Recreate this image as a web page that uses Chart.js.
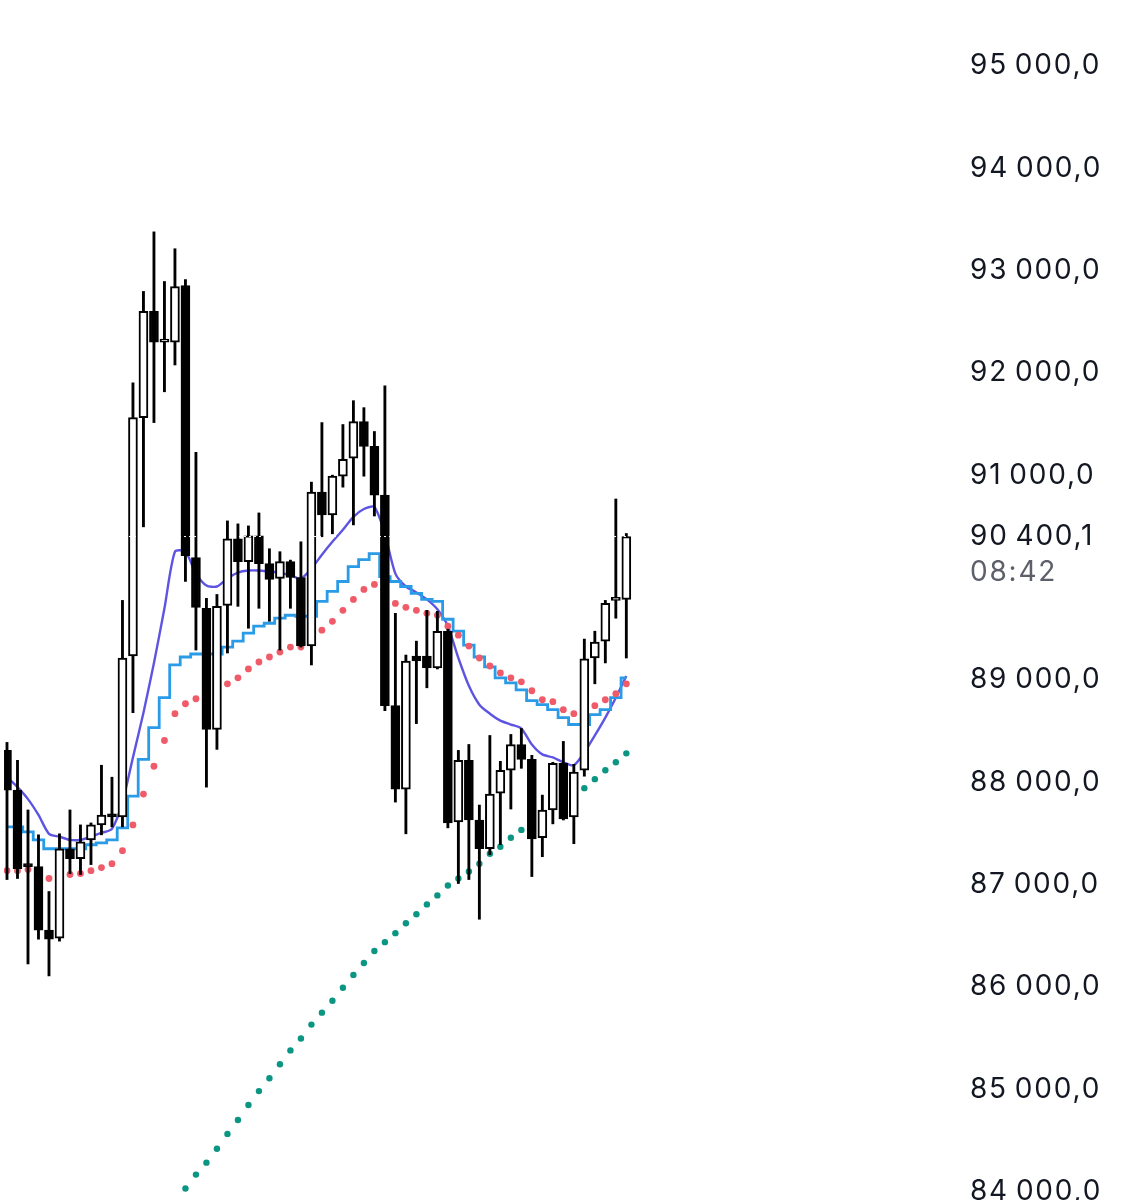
<!DOCTYPE html>
<html>
<head>
<meta charset="utf-8">
<script src="https://cdn.jsdelivr.net/npm/chart.js@4.4.1/dist/chart.umd.min.js"></script>
<style>
html,body{margin:0;padding:0;background:#ffffff;overflow:hidden;}
#c{display:block;}
</style>
</head>
<body>
<canvas id="c" width="1129" height="1200"></canvas>
<script>
// ---- data ----
const opens  = [88310,87922,87194,87174,86553,86475,87349,87252,87436,87582,87679,87660,89233,91563,92602,92301,92301,92854,90194,89699,88514,89728,90378,90155,90407,90136,89990,90155,90000,89330,90835,90611,90990,91165,91524,91281,90805,88747,87932,89233,89233,89116,89475,87611,88213,87630,87349,87893,88116,88368,88223,87456,87728,88184,87660,88116,89213,89378,89776,89786];
const highs  = [88388,88213,87728,87485,86931,87495,87728,87582,87601,88165,88048,89776,91903,92796,93378,92893,93213,92912,91223,89796,89834,90553,90524,90504,90631,90281,90252,90170,90349,90932,91514,91000,91495,91728,91660,91427,91873,89650,89242,89378,89679,89669,89495,88310,88368,87776,88456,88203,88466,88524,88262,87873,88194,88398,88174,89398,89475,89776,90767,90430];
const lows   = [87048,87058,86223,86465,86106,86446,87106,87097,87194,87485,87563,87563,88679,90495,91514,91815,92077,89961,89291,87951,88320,89262,89718,89504,89699,89572,89291,89699,89320,89145,90398,90427,90883,90514,90990,90601,88699,87805,87495,88572,88922,89106,87553,87009,87048,86660,87291,87388,87737,88135,87077,87271,87592,87630,87398,88058,88961,89165,89602,89213];
const closes = [87922,87155,87174,86553,86465,87349,87252,87417,87582,87679,87660,89213,91563,92602,92301,92310,92844,90213,89708,88514,89718,90378,90155,90407,90136,89980,90155,90000,89330,90835,90611,90990,91155,91524,91281,90805,88747,87932,89184,89184,89116,89475,87601,88213,87630,87349,87883,88116,88368,88223,87446,87728,88184,87640,88097,89204,89369,89747,89786,90400.1];

const maFast = [88048,87951,87834,87679,87495,87466,87436,87436,87466,87504,87543,87805,88242,88679,89165,89699,90252,90252,90038,89922,89912,89990,90048,90068,90068,90058,90048,90019,89990,90087,90223,90349,90466,90592,90669,90689,90427,90038,89912,89854,89786,89689,89524,89213,88941,88757,88669,88601,88563,88524,88368,88271,88242,88194,88165,88291,88456,88631,88825,89038];
const maStep = [87563,87563,87514,87436,87349,87349,87349,87349,87388,87407,87436,87553,87863,88223,88533,88825,89145,89223,89252,89252,89252,89320,89378,89456,89524,89553,89602,89631,89621,89621,89767,89864,89961,90106,90174,90233,90009,89961,89912,89844,89786,89767,89592,89475,89339,89223,89126,89019,88970,88902,88796,88757,88708,88631,88563,88563,88660,88708,88825,89019];
const redDots = [87135,87135,87145,87097,87058,87077,87097,87106,87135,87165,87203,87330,87582,87883,88155,88407,88669,88766,88815,88864,88912,88961,89019,89106,89174,89223,89271,89320,89320,89398,89485,89572,89679,89786,89883,89932,89796,89747,89708,89679,89650,89631,89524,89436,89330,89213,89135,89067,89019,88980,88893,88805,88786,88708,88669,88708,88747,88805,88864,88961];
const tealDots = [null,null,null,null,null,null,null,null,null,null,null,null,null,null,null,null,null,84029,84164,84281,84417,84562,84698,84844,84980,85106,85242,85378,85495,85630,85747,85864,85990,86116,86232,86349,86436,86524,86621,86708,86805,86893,86990,87058,87126,87203,87300,87368,87456,87533,87601,87679,87757,87825,87883,87941,88029,88116,88194,88281];

const lastPrice = 90400.1;
const lastTime = '08:42';
const yTicks = [95000,94000,93000,92000,91000,89000,88000,87000,86000,85000,84000];

// ---- view window ----
const xMin = -0.285, xMax = 90.31;
const yMin = 83955, yMax = 95605;
const AXIS_W = 174;

const labels = opens.map((_, i) => i);

function fmt(v) {
  const parts = Number(v).toFixed(1).split('.');
  return parts[0].replace(/\B(?=(\d{3})+(?!\d))/g, '\u2009') + ',' + parts[1];
}

const spacingPlugin = {
  id: 'labelSpacing',
  beforeDraw(chart) {
    try { chart.ctx.letterSpacing = '1.8px'; } catch (e) {}
  }
};

const lastPricePlugin = {
  id: 'lastPriceLabel',
  afterDraw(chart) {
    const ys = chart.scales.y;
    const ctx = chart.ctx;
    const py = ys.getPixelForValue(lastPrice);
    ctx.save();
    try { ctx.letterSpacing = '1.8px'; } catch (e) {}
    ctx.font = '28px Inter';
    ctx.textAlign = 'left';
    ctx.textBaseline = 'middle';
    ctx.fillStyle = '#131722';
    ctx.fillText(fmt(lastPrice), ys.left + 15, py);
    ctx.fillStyle = '#5d606b';
    ctx.fillText(lastTime, ys.left + 15, py + 36);
    ctx.restore();
  }
};

new Chart(document.getElementById('c'), {
  type: 'bar',
  data: {
    labels: labels,
    datasets: [
      {
        type: 'line',
        data: [{x: xMin, y: lastPrice}, {x: labels[labels.length - 1], y: lastPrice}],
        borderColor: '#ffffff',
        borderWidth: 1,
        borderDash: [2, 3],
        pointRadius: 0,
        order: 0
      },
      {
        type: 'bar',
        data: labels.map(i => [opens[i], closes[i]]),
        backgroundColor: labels.map(i => closes[i] >= opens[i] ? '#ffffff' : '#000000'),
        borderColor: '#000000',
        borderWidth: 2,
        borderSkipped: false,
        barThickness: 9,
        minBarLength: 3,
        grouped: false,
        order: 1
      },
      {
        type: 'bar',
        data: labels.map(i => [lows[i], highs[i]]),
        backgroundColor: '#000000',
        borderWidth: 0,
        barThickness: 2.2,
        grouped: false,
        order: 2
      },
      {
        type: 'line',
        data: redDots,
        showLine: false,
        pointRadius: 3.4,
        pointBorderWidth: 0,
        pointBackgroundColor: '#ef5b68',
        order: 3
      },
      {
        type: 'line',
        data: tealDots,
        showLine: false,
        pointRadius: 3.2,
        pointBorderWidth: 0,
        pointBackgroundColor: '#0a9682',
        order: 4
      },
      {
        type: 'line',
        data: maStep,
        stepped: 'middle',
        borderColor: '#2a9be6',
        borderWidth: 2.8,
        pointRadius: 0,
        order: 5
      },
      {
        type: 'line',
        data: maFast,
        borderColor: '#5e54e2',
        borderWidth: 2.4,
        tension: 0.25,
        pointRadius: 0,
        order: 6
      }
    ]
  },
  options: {
    responsive: false,
    devicePixelRatio: 1,
    animation: false,
    events: [],
    layout: { padding: 0 },
    plugins: { legend: { display: false }, tooltip: { enabled: false } },
    scales: {
      x: { type: 'linear', min: xMin, max: xMax, display: false, offset: false },
      y: {
        position: 'right',
        min: yMin,
        max: yMax,
        grid: { display: false, drawTicks: false },
        border: { display: false },
        ticks: {
          autoSkip: false,
          padding: 15,
          color: '#131722',
          font: { family: 'Inter', size: 28 },
          callback: v => fmt(v)
        },
        afterBuildTicks: s => { s.ticks = yTicks.map(v => ({ value: v })); },
        afterFit: s => { s.width = AXIS_W; s.paddingTop = 0; s.paddingBottom = 0; }
      }
    }
  },
  plugins: [spacingPlugin, lastPricePlugin]
});
</script>
</body>
</html>
